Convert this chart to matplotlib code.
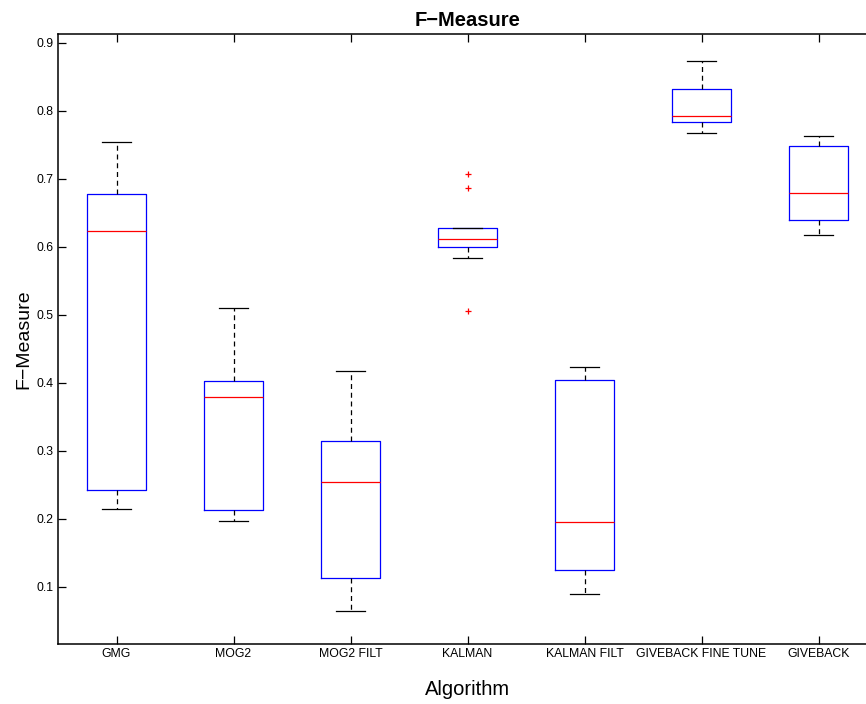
import matplotlib
matplotlib.use("Agg")
import matplotlib.pyplot as plt

plt.rcParams['font.family'] = ['Liberation Sans', 'DejaVu Sans']

categories = ["GMG", "MOG2", "MOG2 FILT", "KALMAN", "KALMAN FILT",
              "GIVEBACK FINE TUNE", "GIVEBACK"]
whislo = [0.215, 0.197, 0.065, 0.583, 0.090, 0.768, 0.618]
q1     = [0.243, 0.213, 0.113, 0.600, 0.125, 0.784, 0.639]
med    = [0.624, 0.379, 0.254, 0.611, 0.195, 0.792, 0.679]
q3     = [0.678, 0.403, 0.314, 0.628, 0.404, 0.832, 0.749]
whishi = [0.754, 0.510, 0.418, 0.628, 0.424, 0.874, 0.763]
fliers = [[], [], [], [0.707, 0.686, 0.506], [], [], []]

stats = []
for i, name in enumerate(categories):
    stats.append(dict(label=name, whislo=whislo[i], q1=q1[i], med=med[i],
                      q3=q3[i], whishi=whishi[i], fliers=fliers[i]))

fig = plt.figure(figsize=(8.66, 7.04), dpi=100)
ax = fig.add_axes([58/866, 60/704, (877-58)/866, (644-34)/704])

ax.bxp(stats, positions=range(1, 8), widths=0.5, showfliers=True,
       boxprops=dict(color='blue', linewidth=0.9),
       medianprops=dict(color='red', linewidth=0.9),
       whiskerprops=dict(color='black', linestyle=(0, (4, 3)), linewidth=0.9),
       capprops=dict(color='black', linewidth=0.9),
       capwidths=0.25,
       flierprops=dict(marker='+', markeredgecolor='red', markersize=5,
                       linestyle='none', markeredgewidth=0.9))

ax.set_xlim(0.5, 7.5)
ax.set_ylim(0.016, 0.913)
ax.set_yticks([0.1, 0.2, 0.3, 0.4, 0.5, 0.6, 0.7, 0.8, 0.9])
ax.set_yticklabels(["0.1", "0.2", "0.3", "0.4", "0.5", "0.6", "0.7", "0.8", "0.9"])
ax.set_xticks(range(1, 8))
ax.set_xticklabels(categories)
ax.tick_params(direction='in', length=6, width=0.9, labelsize=8.8, pad=3,
               top=True, right=True)
for s in ax.spines.values():
    s.set_linewidth(1.1)

ax.set_title("F\u2212Measure", fontsize=14.5, fontweight='bold', pad=6)
ax.set_ylabel("F\u2212Measure", fontsize=14, labelpad=3)
ax.set_xlabel("Algorithm", fontsize=14.5, labelpad=14)

fig.savefig("out.png", dpi=100)
